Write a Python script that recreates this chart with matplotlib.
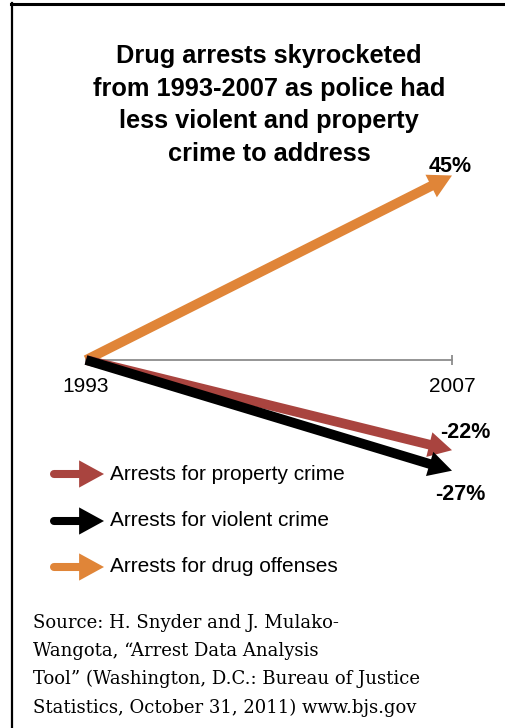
import matplotlib
matplotlib.use("Agg")
import matplotlib.pyplot as plt
from matplotlib.lines import Line2D
from matplotlib.patches import FancyArrowPatch

# ---- data ----
years = [1993, 2007]
series_names = ["Arrests for property crime", "Arrests for violent crime", "Arrests for drug offenses"]
series_change = [-22, -27, 45]
series_colors = ["#A9443F", "#000000", "#E08538"]
change_labels = ["-22%", "-27%", "45%"]
title_lines = ["Drug arrests skyrocketed",
               "from 1993-2007 as police had",
               "less violent and property",
               "crime to address"]
source_lines = ["Source: H. Snyder and J. Mulako-",
                "Wangota, \u201cArrest Data Analysis",
                "Tool\u201d (Washington, D.C.: Bureau of Justice",
                "Statistics, October 31, 2011) www.bjs.gov"]

W, H = 506, 728
fig = plt.figure(figsize=(W / 100, H / 100), dpi=100)
fig.patch.set_facecolor("white")

def fx(px):
    return px / W

def fy(py):
    return 1 - py / H

sans = ["Liberation Sans", "DejaVu Sans"]
serif = ["DejaVu Serif", "Liberation Serif"]

# frame
fig.add_artist(Line2D([fx(11), fx(506)], [fy(4), fy(4)], color="black", lw=2.2))
fig.add_artist(Line2D([fx(12), fx(12)], [fy(3), fy(728)], color="black", lw=1.6))

# title
for i, line in enumerate(title_lines):
    fig.text(fx(269), fy(63 + i * 32.7), line, ha="center", va="baseline",
             fontsize=18.3, fontweight="bold", family=sans)

# axes: x 1993..2007 -> px 86..452 ; y 0 -> px 360, 4.1 px per %
scale = 4.1
y_top, y_bot = 50, -30
ax_left, ax_right = 86, 452
ax_top_px = 360 - y_top * scale
ax_bot_px = 360 - y_bot * scale
ax = fig.add_axes([fx(ax_left), fy(ax_bot_px), fx(ax_right - ax_left), (ax_bot_px - ax_top_px) / H])
ax.set_xlim(years[0], years[1])
ax.set_ylim(y_bot, y_top)
ax.patch.set_alpha(0)
for s in ["top", "right", "left"]:
    ax.spines[s].set_visible(False)
ax.spines["bottom"].set_position(("data", 0))
ax.spines["bottom"].set_color("#8C8C8C")
ax.spines["bottom"].set_linewidth(1.3)
ax.set_yticks([])
ax.set_xticks(years)
ax.set_xticklabels([str(y) for y in years], fontsize=15, family=sans)
ax.tick_params(axis="x", direction="inout", length=7, width=1.3, color="#8C8C8C", pad=9)

# arrows (drug first, then property, then violent)
order = [2, 0, 1]
label_offsets = {0: (13, 18), 1: (8, -24), 2: (-2, 9)}
for i in order:
    ax.annotate("", xy=(years[1], series_change[i]), xytext=(years[0], 0),
                arrowprops=dict(arrowstyle="simple,head_width=1.3,head_length=1.2,tail_width=0.5",
                                mutation_scale=14, color=series_colors[i], lw=0,
                                shrinkA=0, shrinkB=0),
                annotation_clip=False)
for i in range(3):
    dx, dy = label_offsets[i]
    ax.annotate(change_labels[i], xy=(years[1], series_change[i]), xytext=(dx, dy),
                textcoords="offset pixels", ha="center", va="center",
                fontsize=15.5, fontweight="bold", family=sans, annotation_clip=False)

# legend
leg_y = [474, 521, 567]
for i in range(3):
    y = fy(leg_y[i])
    fig.add_artist(Line2D([fx(54), fx(82)], [y, y], color=series_colors[i], lw=5.8,
                          solid_capstyle="round"))
    fig.add_artist(FancyArrowPatch((fx(60), y), (fx(104), y), transform=fig.transFigure,
                                   arrowstyle="simple,head_width=1.4,head_length=1.28,tail_width=0.41",
                                   mutation_scale=14, color=series_colors[i], lw=0,
                                   shrinkA=0, shrinkB=0))
    fig.text(fx(110), y, series_names[i], ha="left", va="center", fontsize=15, family=sans)

# source
for i, line in enumerate(source_lines):
    fig.text(fx(33), fy(628 + i * 28.2), line, ha="left", va="baseline",
             fontsize=13, family=serif)

fig.savefig("out.png", dpi=100)
